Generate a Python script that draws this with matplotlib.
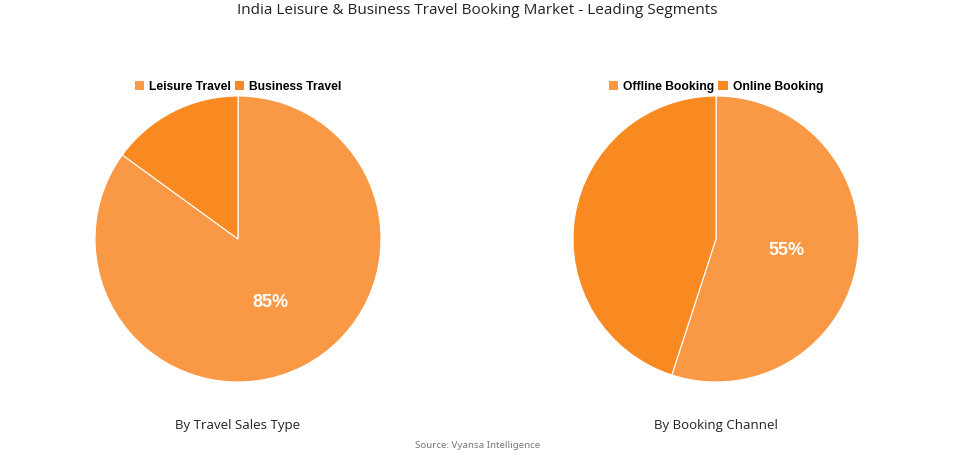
import matplotlib
matplotlib.use("Agg")
import matplotlib.pyplot as plt
from matplotlib.patches import Patch

title = "India Leisure & Business Travel Booking Market - Leading Segments"
source = "Source: Vyansa Intelligence"

labels1 = ["Leisure Travel", "Business Travel"]
values1 = [85, 15]
subtitle1 = "By Travel Sales Type"

labels2 = ["Offline Booking", "Online Booking"]
values2 = [55, 45]
subtitle2 = "By Booking Channel"

colors = ["#F99845", "#F98A22"]

fig = plt.figure(figsize=(9.55, 4.54), dpi=100)
fig.patch.set_facecolor("white")

W, H = 955, 454
R = 143

def make_pie(cx, cy, labels, values, subtitle):
    ax = fig.add_axes([(cx - R) / W, 1 - (cy + R) / H, 2 * R / W, 2 * R / H])
    vmax = max(values)
    def fmt(p, vals=values):
        return f"{p:.0f}%" if abs(p - vmax * 100 / sum(vals)) < 0.01 else ""
    ax.pie(
        values, colors=colors, startangle=90, counterclock=False,
        autopct=fmt, pctdistance=0.5, radius=1.0,
        wedgeprops=dict(edgecolor="white", linewidth=0.8),
        textprops=dict(color="white", fontsize=13, fontweight="bold",
                       family="Liberation Sans"))
    ax.set_xlim(-1, 1)
    ax.set_ylim(-1, 1)
    ax.set_aspect("equal")
    ax.axis("off")
    handles = [Patch(facecolor=c, edgecolor="none") for c in colors]
    fig.legend(handles, labels, loc="center", bbox_to_anchor=(cx / W, 1 - 87 / H),
               ncol=2, frameon=False, handlelength=0.8, handleheight=0.8,
               handletextpad=0.4, columnspacing=0.3,
               prop=dict(family="Liberation Sans", weight="bold", size=8.7))
    fig.text(cx / W, 1 - 425 / H, subtitle, ha="center", va="center",
             fontsize=9.5, family="Open Sans", color="#222222")
    return ax

make_pie(238, 239, labels1, values1, subtitle1)
make_pie(716, 239, labels2, values2, subtitle2)

fig.text(0.5, 1 - 11 / H, title, ha="center", va="center", fontsize=11,
         family="Open Sans", color="#222222")
fig.text(0.5, 1 - 445 / H, source, ha="center", va="center", fontsize=7,
         family="Noto Sans", color="#777777")

fig.savefig("out.png", dpi=100, facecolor="white")
